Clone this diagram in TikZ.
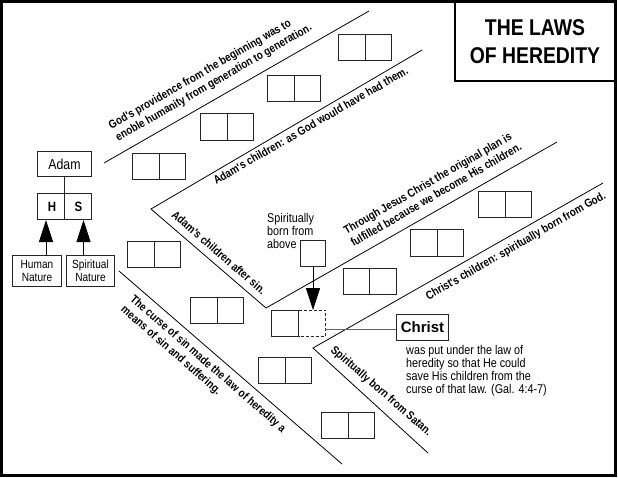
\documentclass[tikz,border=0pt]{standalone}
\usepackage{fontspec}
\setmainfont{Liberation Sans}
\newfontfamily\nar[FakeStretch=0.85]{Liberation Sans}
\usetikzlibrary{arrows.meta}
\begin{document}
\begin{tikzpicture}[x=1pt,y=-1pt,
  box/.style={draw=black!85, line width=1pt, inner sep=0},
  dbl/.style={box, minimum width=53pt, minimum height=26.5pt,
    path picture={\draw[black!85,line width=1pt] (path picture bounding box.north) -- (path picture bounding box.south);}},
  diag/.style={line width=0.8pt},
  rtext/.style={font=\nar\bfseries\fontsize{11.6}{14}\selectfont, align=left, inner sep=0},
  big/.style={line width=1pt, -{Triangle[width=14pt,length=22pt]}},
  small/.style={font=\nar\fontsize{12.7}{13}\selectfont, align=left, inner sep=0},
]
\useasboundingbox (0,0) rectangle (618,477);
% frame
\draw[line width=3pt] (1.5,1.5) rectangle (615.5,475.5);
\node[draw, line width=2pt, minimum width=160pt, minimum height=79pt, align=center,
  font=\nar\bfseries\fontsize{22.8}{27.5}\selectfont] (title) at (535,41.5) {THE LAWS\\OF HEREDITY};

% diagonal lines
\coordinate (L1a) at (104,163); \coordinate (L1b) at (369,11);
\coordinate (L2a) at (422,50); \coordinate (V1) at (151,209);
\coordinate (V2) at (266,308); \coordinate (L3b) at (557,142);
\coordinate (L4b) at (603,183); \coordinate (V4) at (313,348);
\coordinate (L4c) at (428,453);
\coordinate (L5a) at (119,271); \coordinate (L5b) at (342,464);
\draw[diag] (L1a) -- (L1b);
\draw[diag] (L2a) -- (V1) -- (V2) -- (L3b);
\draw[diag] (L4b) -- (V4) -- (L4c);
\draw[diag] (L5a) -- (L5b);

% double boxes
\node[dbl] (b1) at (159,166.5) {};
\node[dbl] (b2) at (227,127) {};
\node[dbl] (b3) at (294,88.5) {};
\node[dbl] (b4) at (365,47.5) {};
\node[dbl] (b5) at (154,254.5) {};
\node[dbl] (b6) at (217,310.5) {};
\node[dbl] (b7) at (285,370.5) {};
\node[dbl] (b8) at (348,425.5) {};
\node[dbl] (b9) at (505,204.5) {};
\node[dbl] (b10) at (437,243) {};
\node[dbl] (b11) at (369.5,281.5) {};

% special half-dashed box
\node[minimum width=53pt, minimum height=26.5pt, inner sep=0] (sp) at (298.5,323.5) {};
\draw[black!85, line width=1pt] (sp.north) -- (sp.north west) -- (sp.south west) -- (sp.south) -- cycle;
\draw[black!85, line width=1pt, dash pattern=on 3pt off 2pt] (sp.north) -- (sp.north east) -- (sp.south east) -- (sp.south);

% spiritually born from above
\node[box, minimum width=25.5pt, minimum height=26.5pt] (sb) at (313,253.5) {};
\node[small, anchor=west] (sbtext) at (267,231) {Spiritually\\born from\\above};
\draw[big] (sb.south) -- (sb.south |- sp.north);

% Christ
\node[box, minimum width=52pt, minimum height=26pt, font=\bfseries\fontsize{15}{17}\selectfont] (christ) at (422.5,327.5) {Christ};
\draw[black!60, line width=1.5pt] ([yshift=-2pt]christ.west) -- ([yshift=-2pt]christ.west -| sp.east);
\node[small, anchor=west] (ctext) at (406,371) {was put under the law of\\heredity so that He could\\save His children from the\\curse of that law. (Gal. 4:4-7)};

% Adam
\node[box, minimum width=54pt, minimum height=25pt, font=\nar\fontsize{14.5}{16}\selectfont] (adam) at (64.5,164) {Adam};
\node[dbl, minimum width=54pt, minimum height=26pt] (hs) at (64.5,206.5) {};
\node[inner sep=0, font=\nar\bfseries\fontsize{13.5}{15}\selectfont] (hH) at (52,206.5) {H};
\node[inner sep=0, font=\nar\bfseries\fontsize{13.5}{15}\selectfont] (hS) at (78.5,206.5) {S};
\draw[black!85, line width=1pt] (adam.south) -- (hs.north);
\node[box, minimum width=49pt, minimum height=31pt, align=center, font=\nar\fontsize{11.9}{13}\selectfont] (hn) at (37,271) {Human\\Nature};
\node[box, minimum width=48pt, minimum height=31pt, align=center, font=\nar\fontsize{11.9}{13}\selectfont] (sn) at (90.5,271) {Spiritual\\Nature};
\draw[big] ([xshift=9pt]hn.north) -- ([xshift=9pt]hn.north |- hs.south);
\draw[big] ([xshift=-7pt]sn.north) -- ([xshift=-7pt]sn.north |- hs.south);

% rotated texts
\node[rtext, rotate=30] (t1) at (210.5,77) {God's providence from the beginning was to\\enoble humanity from generation to generation.};
\node[rtext, rotate=30] (t2) at (310.5,125.5) {Adam's children: as God would have had them.};
\node[rtext, rotate=-41] (t3) at (219,252.5) {Adam's children after sin.};
\node[rtext, rotate=30] (t4) at (432.5,188.5) {Through Jesus Christ the original plan is\\fulfilled because we become His children.};
\node[rtext, rotate=30] (t5) at (516,246.5) {Christ's children: spiritually born from God.};
\node[rtext, rotate=-41] (t6) at (381,391.5) {Spiritually born from Satan.};
\node[rtext, rotate=-41] (t7) at (203,369.5) {The curse of sin made the law of heredity a\\means of sin and suffering.};
\end{tikzpicture}
\end{document}
